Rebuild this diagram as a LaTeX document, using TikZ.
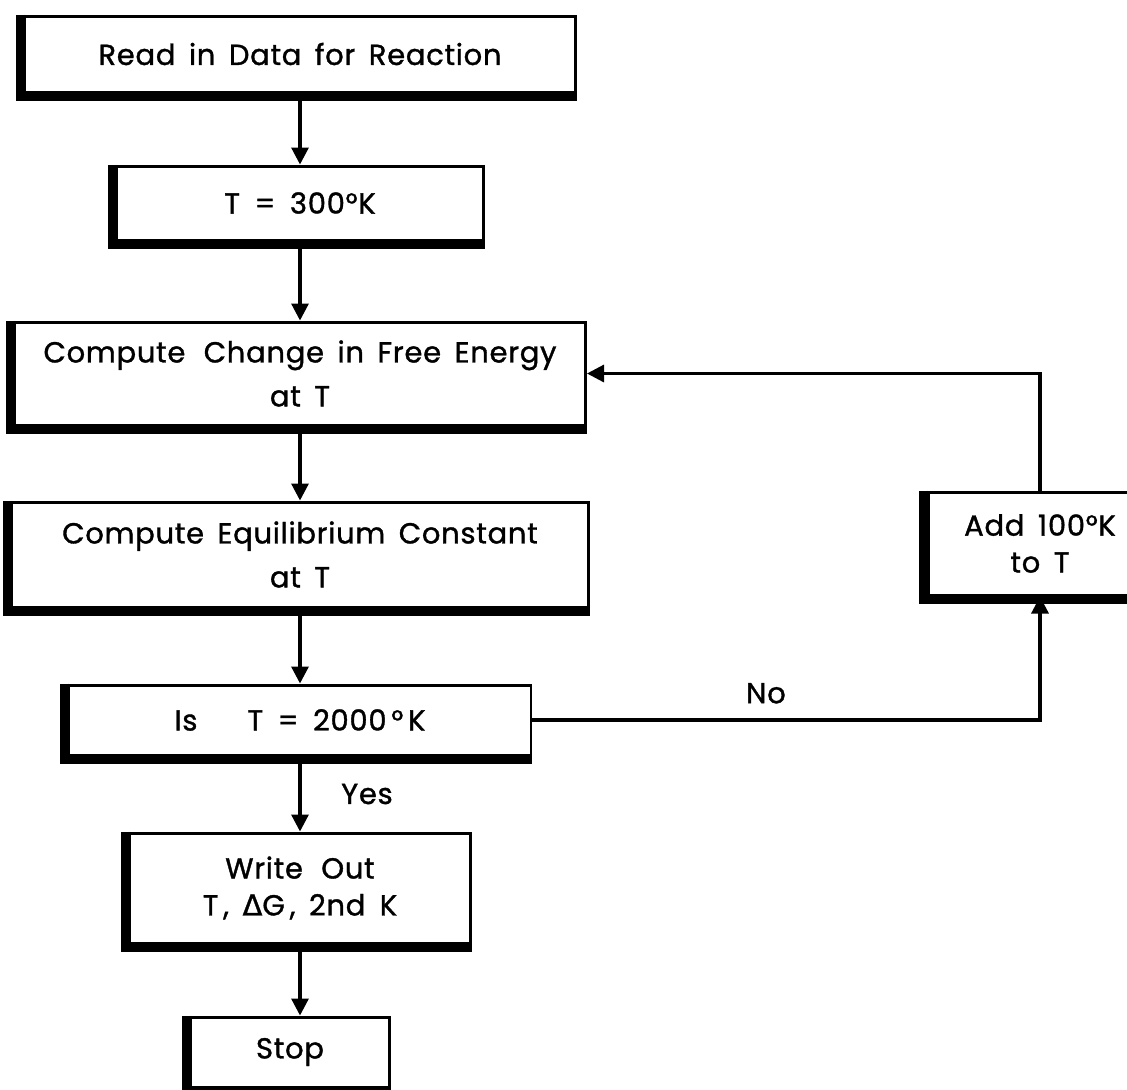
\documentclass[tikz,border=0pt]{standalone}
\usepackage{fontspec}
\setmainfont{Poppins}[LetterSpace=2.5, WordSpace=1.6, FakeBold=1.2]
\newfontfamily\deltafont{DejaVu Sans}[FakeBold=1.2]
\usetikzlibrary{arrows.meta,positioning}

\begin{document}
\begin{tikzpicture}[
    node font=\fontsize{16.5}{21}\selectfont,
    >={Triangle[length=0.34cm, width=0.34cm]},
    flow box/.style={draw, line width=1.7pt, align=center, inner sep=0pt},
    flow arrow/.style={->, line width=1.8pt},
]

% Page frame
\useasboundingbox (0,0) rectangle (22.54,-21.78);

% Main column
\node[flow box, minimum width=11cm, minimum height=1.52cm] (read) at (6,-1.08) {Read in Data for Reaction};
\node[flow box, minimum width=7.34cm, minimum height=1.48cm] (init) at (6,-4.06) {T\enspace=\enspace 300°K};
\node[flow box, minimum width=11.42cm, minimum height=2.06cm] (dG) at (6,-7.47) {Compute\, Change in Free Energy\\[4pt] at T};
\node[flow box, minimum width=11.54cm, minimum height=2.1cm] (eqK) at (6,-11.09) {Compute Equilibrium Constant\\[4pt] at T};
\node[flow box, minimum width=9.24cm, minimum height=1.4cm] (test) at (6,-14.4) {Is\hspace{1cm}T\enspace=\enspace 2000\,°\,K};
\node[flow box, minimum width=6.82cm, minimum height=2.2cm] (out) at (6,-17.76) {Write\, Out\\ T\,, {\deltafont Δ}G\,, 2nd\enspace K};
\node[flow box, minimum width=3.98cm, minimum height=1.4cm] (stop) at (5.8,-21.04) {Stop};

% Loop box
\node[flow box, minimum width=4.48cm, minimum height=2.06cm] (add) at (20.8,-10.87) {Add 100°K\\ to T};

% Heavy left and bottom edges
\foreach \n in {read,init,dG,eqK,test,out,stop,add}
  \draw[line width=5pt] ([xshift=-1.6pt]\n.north west) -- ([xshift=-1.6pt,yshift=-1.6pt]\n.south west) -- ([yshift=-1.6pt]\n.south east);

% Arrows down the column
\draw[flow arrow] (read) -- (init);
\draw[flow arrow] (init) -- (dG);
\draw[flow arrow] (dG) -- (eqK);
\draw[flow arrow] (eqK) -- (test);
\draw[flow arrow] (test) -- node[midway, right=0.6cm] {Yes} (out);
\draw[flow arrow] (out) -- (stop.north -| out.south);

% Loop back
\draw[flow arrow] (test.east) -| node[pos=0.23, above=3pt] {No} (add.south);
\draw[flow arrow] (add.north) |- (dG.east);

\end{tikzpicture}
\end{document}
